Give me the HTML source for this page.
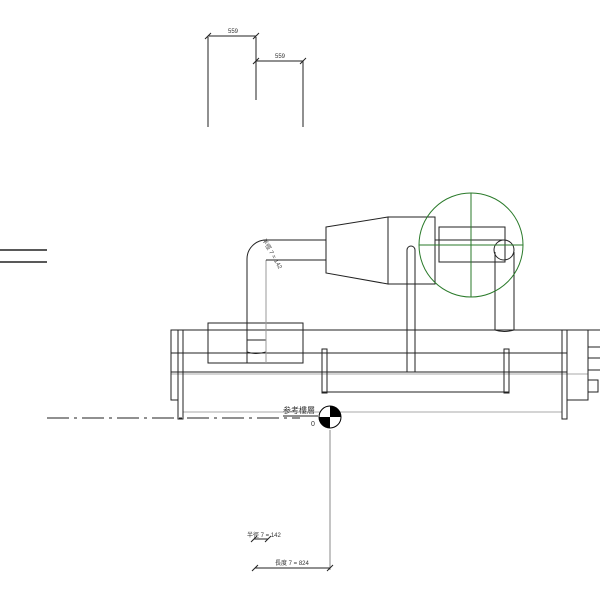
<!DOCTYPE html>
<html><head><meta charset="utf-8"><style>body{margin:0;background:#fff}svg{display:block}</style></head>
<body>
<svg width="600" height="600" viewBox="0 0 600 600" xmlns="http://www.w3.org/2000/svg" font-family="'Liberation Sans','Noto Sans CJK TC',sans-serif">
<g stroke="#222" stroke-width="1" fill="none">
<line x1="208" y1="37" x2="208" y2="127"/>
<line x1="256" y1="37" x2="256" y2="100"/>
<line x1="303" y1="61" x2="303" y2="127"/>
<line x1="208" y1="36" x2="256" y2="36"/>
<line x1="256" y1="61" x2="303" y2="61"/>
<line x1="205" y1="39" x2="211" y2="33"/><line x1="253" y1="39" x2="259" y2="33"/>
<line x1="253" y1="64" x2="259" y2="58"/><line x1="300" y1="64" x2="306" y2="58"/>
<line x1="0" y1="250" x2="47" y2="250" stroke-width="1.5"/>
<line x1="0" y1="262" x2="47" y2="262" stroke-width="1.5"/>
<line x1="171" y1="330" x2="588" y2="330"/>
<line x1="171" y1="353" x2="567" y2="353"/>
<line x1="171" y1="372" x2="567" y2="372"/>
<line x1="171" y1="374" x2="588" y2="374" stroke="#aaa"/>
<line x1="183" y1="412" x2="562" y2="412" stroke="#aaa"/>
<rect x="171" y="330" width="7" height="70"/>
<rect x="178" y="330" width="5" height="89"/>
<rect x="562" y="330" width="5" height="89"/>
<rect x="567" y="330" width="21" height="70"/>
<line x1="588" y1="330" x2="600" y2="330"/><line x1="588" y1="347" x2="600" y2="347"/>
<line x1="588" y1="358" x2="600" y2="358"/><line x1="588" y1="370" x2="600" y2="370"/>
<polyline points="588,380 598,380 598,392 588,392"/>
<rect x="208" y="323" width="95" height="40"/>
<line x1="247" y1="259" x2="247" y2="363"/>
<line x1="266" y1="340" x2="247" y2="340"/>
<path d="M247 352 Q256 355 266 352"/>
<line x1="266" y1="260" x2="266" y2="363" stroke="#999"/>
<path d="M247 259 A19 19 0 0 1 266 240 L326 240"/>
<line x1="266" y1="260" x2="326" y2="260"/>
<polygon points="326,227 388,217 388,284 326,273"/>
<rect x="388" y="217" width="47" height="67"/>
<path d="M407 372 L407 250 A4 4 0 0 1 415 250 L415 372"/>
<rect x="322" y="349" width="5" height="44"/>
<rect x="504" y="349" width="5" height="44"/>
<rect x="322" y="372" width="187" height="20"/>
<rect x="439" y="227" width="66" height="35"/>
<line x1="435" y1="240" x2="504" y2="240"/>
<circle cx="504" cy="250" r="10"/>
<path d="M495 252 L495 330 Q504 333 514 330 L514 252"/>
<line x1="47" y1="418" x2="300" y2="418" stroke-dasharray="22,5,3,5"/>
<line x1="283" y1="416" x2="318" y2="416"/>
<line x1="330" y1="430" x2="330" y2="570" stroke="#888"/>
<line x1="255" y1="568" x2="330" y2="568"/>
<line x1="252" y1="571" x2="258" y2="565"/><line x1="327" y1="571" x2="333" y2="565"/>
<line x1="254" y1="539" x2="268" y2="539"/>
<line x1="251" y1="542" x2="257" y2="536"/><line x1="265" y1="542" x2="271" y2="536"/>
</g>
<g stroke="#2a7a2a" fill="none">
<circle cx="471" cy="245" r="52"/>
<line x1="471" y1="193" x2="471" y2="297"/>
<line x1="419" y1="245" x2="523" y2="245"/>
</g>
<circle cx="330" cy="417" r="11" fill="#fff" stroke="#000"/>
<path d="M330 417 L330 406 A11 11 0 0 1 341 417 Z M330 417 L330 428 A11 11 0 0 1 319 417 Z" fill="#000"/>
<g font-size="6" fill="#333">
<text x="228" y="33">559</text>
<text x="275" y="58">559</text>
<text x="283" y="413" font-size="8">参考樓層</text>
<text x="311" y="426" font-size="7">0</text>
<text x="247" y="537">半徑 7 = 142</text>
<text x="275" y="565">長度 7 = 824</text>
<text x="0" y="0" transform="translate(262,240) rotate(60)">半徑 7 = 142</text>
</g>
</svg>
</body></html>
